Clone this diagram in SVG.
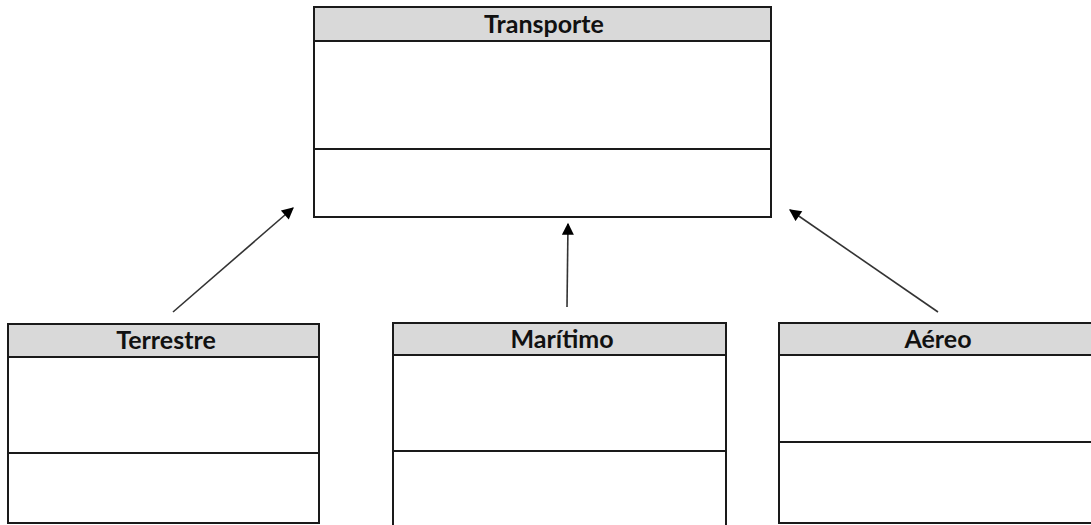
<svg xmlns="http://www.w3.org/2000/svg" width="1091" height="525" viewBox="0 0 1091 525">
  <style>
    .box { fill: #ffffff; stroke: #1a1a1a; stroke-width: 2; }
    .head { fill: #d9d9d9; stroke: #1a1a1a; stroke-width: 2; }
    .sep { stroke: #1a1a1a; stroke-width: 2; }
    .title { font-family: Lato, "Liberation Sans", sans-serif; font-weight: bold; font-size: 25px; fill: #111111; text-anchor: middle; }
    .link { stroke: #333333; stroke-width: 1.6; fill: none; marker-end: url(#tri); }
  </style>
  <defs>
    <marker id="tri" viewBox="0 0 10 10" refX="9" refY="5" markerWidth="14" markerHeight="12" markerUnits="userSpaceOnUse" orient="auto">
      <path d="M0,0 L10,5 L0,10 Z" fill="#000000"/>
    </marker>
  </defs>
  <rect width="1091" height="525" fill="#ffffff"/>

  <g id="transporte">
    <rect class="box" x="314" y="7" width="457" height="210"/>
    <rect class="head" x="314" y="7" width="457" height="34"/>
    <line class="sep" x1="314" y1="149" x2="771" y2="149"/>
    <text class="title" x="544" y="33">Transporte</text>
  </g>

  <g id="terrestre">
    <rect class="box" x="8" y="324" width="311" height="199"/>
    <rect class="head" x="8" y="324" width="311" height="33"/>
    <line class="sep" x1="8" y1="453" x2="319" y2="453"/>
    <text class="title" x="166" y="349">Terrestre</text>
  </g>

  <g id="maritimo">
    <rect class="box" x="393" y="323" width="333" height="205"/>
    <rect class="head" x="393" y="323" width="333" height="32"/>
    <line class="sep" x1="393" y1="451" x2="726" y2="451"/>
    <text class="title" x="562" y="348">Marítimo</text>
  </g>

  <g id="aereo">
    <rect class="box" x="779" y="323" width="320" height="200"/>
    <rect class="head" x="779" y="323" width="320" height="32"/>
    <line class="sep" x1="779" y1="442" x2="1099" y2="442"/>
    <text class="title" x="938" y="348">Aéreo</text>
  </g>

  <g id="connectors">
    <line class="link" x1="173" y1="312" x2="293" y2="208"/>
    <line class="link" x1="567" y1="307" x2="568" y2="224"/>
    <line class="link" x1="938" y1="312" x2="790" y2="210"/>
  </g>
</svg>
